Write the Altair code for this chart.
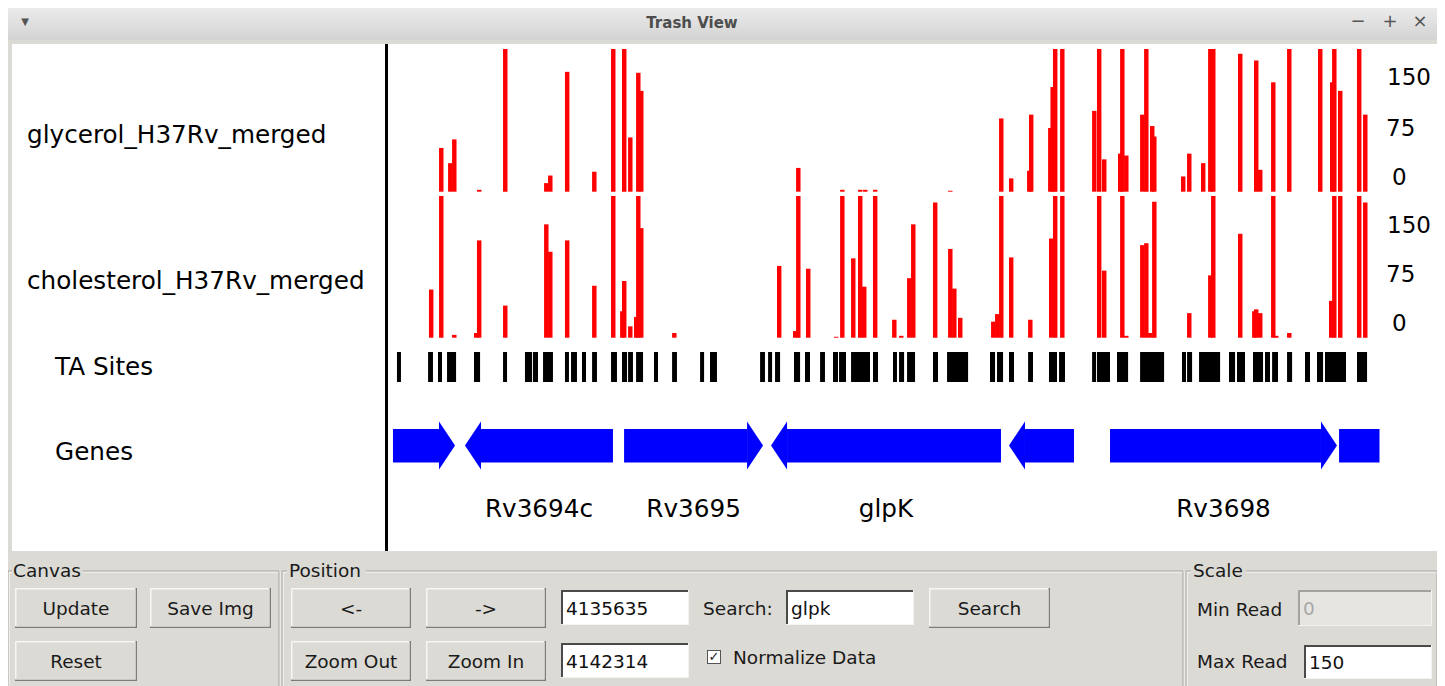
import altair as alt
import pandas as pd

# ---------------- data ----------------
VIEW_START = 4135635
VIEW_END = 4142314
MAX_READ = 150

track_names = ["glycerol_H37Rv_merged", "cholesterol_H37Rv_merged", "TA Sites", "Genes"]
read_ticks = ["150", "75", "0"]

glycerol_pos = [4135966, 4136027, 4136054, 4136222, 4136398, 4136675, 4136702, 4136816, 4136999, 4137127,
                4137201, 4137242, 4137296, 4137316, 4138376, 4138673, 4138794, 4138828, 4138895, 4139402,
                4139746, 4139813, 4139935, 4139948, 4140077, 4140093, 4140110, 4140158, 4140374, 4140407,
                4140441, 4140549, 4140563, 4140590, 4140698, 4140725, 4140765, 4140779, 4140974, 4141015,
                4141109, 4141157, 4141177, 4141359, 4141467, 4141494, 4141582, 4141690, 4141899, 4141980,
                4141994, 4142034, 4142162, 4142203]
glycerol_reads = [46, 30, 55, 2, 150, 9, 17, 126, 21, 150,
                  150, 57, 125, 106, 25, 2, 2, 2, 2, 1,
                  77, 14, 22, 81, 67, 110, 150, 150, 85, 150,
                  34, 40, 150, 38, 81, 150, 69, 58, 16, 40,
                  30, 150, 150, 145, 138, 23, 115, 150, 150, 115,
                  150, 106, 150, 81]

cholesterol_pos = [4135898, 4135966, 4136054, 4136202, 4136222, 4136398, 4136675, 4136702, 4136816, 4136999,
                   4137127, 4137188, 4137201, 4137242, 4137282, 4137296, 4137316, 4137539, 4138247, 4138355,
                   4138376, 4138443, 4138632, 4138673, 4138747, 4138794, 4138821, 4138895, 4139024, 4139071,
                   4139125, 4139152, 4139300, 4139402, 4139429, 4139469, 4139692, 4139719, 4139746, 4139813,
                   4139942, 4140083, 4140110, 4140158, 4140407, 4140441, 4140563, 4140590, 4140698, 4140725,
                   4140752, 4140779, 4141015, 4141157, 4141177, 4141359, 4141454, 4141467, 4141494, 4141582,
                   4141602, 4141690, 4141973, 4141994, 4142034, 4142162, 4142203]
cholesterol_reads = [51, 150, 3, 5, 103, 34, 120, 91, 103, 55,
                     150, 28, 60, 12, 22, 150, 116, 5, 76, 7,
                     150, 73, 1, 150, 84, 150, 54, 150, 19, 2,
                     63, 120, 143, 94, 52, 21, 17, 25, 150, 85,
                     19, 105, 150, 150, 150, 71, 150, 2, 98, 100,
                     5, 144, 26, 66, 150, 110, 28, 30, 26, 150,
                     2, 5, 39, 150, 150, 150, 143]

ta_start = [4135682, 4135892, 4135959, 4136020, 4136202, 4136398, 4136546, 4136600, 4136668, 4136816,
            4136857, 4136931, 4136999, 4137127, 4137201, 4137242, 4137296, 4137417, 4137539, 4137728,
            4137795, 4138133, 4138187, 4138234, 4138362, 4138436, 4138538, 4138625, 4138666, 4138747,
            4138895, 4139030, 4139071, 4139125, 4139300, 4139395, 4139685, 4139732, 4139813, 4139942,
            4140083, 4140151, 4140374, 4140407, 4140542, 4140698, 4140981, 4141015, 4141096, 4141298,
            4141352, 4141460, 4141541, 4141589, 4141690, 4141811, 4141892, 4141946, 4142162]
ta_end = [4135709, 4135925, 4135986, 4136081, 4136243, 4136425, 4136594, 4136634, 4136735, 4136843,
          4136897, 4136958, 4137032, 4137167, 4137235, 4137275, 4137343, 4137444, 4137572, 4137755,
          4137842, 4138166, 4138214, 4138268, 4138403, 4138470, 4138571, 4138659, 4138713, 4138875,
          4138929, 4139057, 4139105, 4139179, 4139334, 4139537, 4139719, 4139773, 4139847, 4139975,
          4140137, 4140191, 4140401, 4140495, 4140617, 4140860, 4141008, 4141049, 4141238, 4141339,
          4141406, 4141528, 4141575, 4141629, 4141724, 4141845, 4141933, 4142088, 4142230]

gene_start = [4135655, 4136141, 4137215, 4138207, 4139813, 4140495, 4142041]
gene_end = [4136074, 4137140, 4138153, 4139759, 4140252, 4142027, 4142500]
gene_strand = ["+", "-", "+", "-", "-", "+", "+"]
gene_label = ["", "Rv3694c", "Rv3695", "glpK", "", "Rv3698", ""]

start_coord = "4135635"
end_coord = "4142314"
search_text = "glpk"
min_read_text = "0"
max_read_text = "150"

# ---------------- layout / style ----------------
W, H = 1429, 678
OX, OY = 8, 8          # page margin -> chart coordinates
BG = "#dcdad5"
FONT = "DejaVu Sans"
BAR_BP = 30            # drawn width of one TA-site bar
HEAD_BP = 108          # arrow head length (16 px)
CANVAS_FS = 24.7

def cx(v):
    return v - OX

def cy(v):
    return v - OY

X_RANGE = [cx(390), cx(1379.5)]
xscale = alt.Scale(domain=[VIEW_START, VIEW_END], range=X_RANGE, nice=False, zero=False)
xscale_clamp = alt.Scale(domain=[VIEW_START, VIEW_END], range=X_RANGE, nice=False, zero=False, clamp=True)

def raw(field, ch):
    if ch == "x":
        return alt.X(field, scale=None, axis=None)
    return alt.Y(field, scale=None, axis=None)

# ---------- chrome boxes ----------
fills_a = []
def box(lst, x1, y1, x2, y2, fill):
    lst.append(dict(x=cx(x1), x2=cx(x2), y=cy(y1), y2=cy(y2), fill=fill))

box(fills_a, 12, 44, 1437, 551, "#ffffff")
box(fills_a, 385, 44, 388, 551, "#000000")

frames = []
for (x1, x2) in [(8, 279), (282, 1183), (1186, 1437)]:
    frames.append(dict(x=cx(x1 + 1), x2=cx(x2 + 1), y=cy(572), y2=cy(720), stroke="#ffffff"))
    frames.append(dict(x=cx(x1), x2=cx(x2), y=cy(571), y2=cy(719), stroke="#a9a6a0"))

fills_b = []
for (x1, x2) in [(12, 83), (287, 366), (1191, 1246)]:
    box(fills_b, x1, 562, x2, 580, BG)

buttons = [("Update", 15, 588, 137, 628), ("Save Img", 150, 588, 271, 628), ("Reset", 15, 641, 137, 681),
           ("<-", 291, 588, 411, 628), ("->", 426, 588, 546, 628), ("Zoom Out", 291, 641, 411, 681),
           ("Zoom In", 426, 641, 546, 681), ("Search", 929, 588, 1050, 628)]
for (_, x1, y1, x2, y2) in buttons:
    box(fills_b, x1, y1, x2, y2, "#7f7c77")
    box(fills_b, x1, y1, x2 - 1.5, y2 - 1.5, "#f7f6f4")
    box(fills_b, x1 + 1.5, y1 + 1.5, x2 - 1.5, y2 - 1.5, "#dcdad5")

entries = [(start_coord, 561, 590, 689, 625, "#ffffff", "#4a4a4a", "#111111"),
           (end_coord, 561, 643, 689, 678, "#ffffff", "#4a4a4a", "#111111"),
           (search_text, 786, 590, 914, 625, "#ffffff", "#4a4a4a", "#111111"),
           (min_read_text, 1298, 590, 1432, 626, "#e7e5e1", "#a4a29d", "#a8a8a8"),
           (max_read_text, 1304, 645, 1432, 679, "#ffffff", "#4a4a4a", "#111111")]
for (_, x1, y1, x2, y2, face, dark, _c) in entries:
    box(fills_b, x1, y1, x2, y2, "#f4f3f1")
    box(fills_b, x1, y1, x2 - 1, y2 - 1, dark)
    box(fills_b, x1 + 2, y1 + 2, x2 - 1, y2 - 1, face)

# checkbox
box(fills_b, 707, 650, 721, 664, "#555555")
box(fills_b, 708, 651, 720, 663, "#ffffff")

# ---------- chrome texts ----------
t_left = []
t_center = []
def txt(lst, s, x, y, size, color="#1a1a1a"):
    lst.append(dict(x=cx(x), y=cy(y), text=s, size=size, color=color))

txt(t_left, track_names[0], 27, 136, CANVAS_FS, "#000000")
txt(t_left, track_names[1], 27, 282, CANVAS_FS, "#000000")
txt(t_left, track_names[2], 55, 368, CANVAS_FS, "#000000")
txt(t_left, track_names[3], 55, 453, CANVAS_FS, "#000000")
for ys in [(78, 129, 178), (226, 275, 324)]:
    for lab, y, x in zip(read_ticks, ys, (1387, 1386, 1392)):
        txt(t_left, lab, x, y, 23, "#000000")

txt(t_left, "Canvas", 13, 571, 18.5)
txt(t_left, "Position", 289, 571, 18.5)
txt(t_left, "Scale", 1193, 571, 18.5)
txt(t_left, "Search:", 703, 609, 18.5)
txt(t_left, "Normalize Data", 733, 658, 18.5)
txt(t_left, "Min Read", 1197, 610, 18.5)
txt(t_left, "Max Read", 1197, 662, 18.5)
for (s, x1, y1, x2, y2, face, dark, col) in entries:
    txt(t_left, s, x1 + 5, (y1 + y2) / 2 + 1, 18.5, col)

for (s, x1, y1, x2, y2) in buttons:
    txt(t_center, s, (x1 + x2) / 2, (y1 + y2) / 2 + 1, 18.5)
txt(t_center, "✓", 714, 657, 13, "#222222")
txt(t_center, "▼", 25, 22, 10, "#555555")
txt(t_center, "−", 1358, 22, 18, "#555555")
txt(t_center, "+", 1390, 22, 18, "#555555")
txt(t_center, "×", 1420, 22, 18, "#555555")

t_title = [dict(x=cx(692), y=cy(23), text="Trash View", size=15, color="#4d4d4d")]

# ---------------- layers ----------------
one = alt.Data(values=[{"a": 1}])

titlebar = alt.Chart(one).mark_rect(
    fill=alt.LinearGradient(gradient="linear",
                            stops=[alt.GradientStop(offset=0, color="#ebebeb"),
                                   alt.GradientStop(offset=1, color="#d3d3d3")],
                            x1=0, x2=0, y1=0, y2=1)
).encode(x=alt.value(0), x2=alt.value(W), y=alt.value(0), y2=alt.value(cy(40)))

def box_layer(rows):
    return alt.Chart(pd.DataFrame(rows)).mark_rect().encode(
        x=raw("x:Q", "x"), x2="x2:Q", y=raw("y:Q", "y"), y2="y2:Q",
        fill=alt.Fill("fill:N", scale=None, legend=None),
    )

layer_fills_a = box_layer(fills_a)
layer_frames = alt.Chart(pd.DataFrame(frames)).mark_rect(filled=False, strokeWidth=1).encode(
    x=raw("x:Q", "x"), x2="x2:Q", y=raw("y:Q", "y"), y2="y2:Q",
    stroke=alt.Stroke("stroke:N", scale=None, legend=None),
)
layer_fills_b = box_layer(fills_b)

def text_layer(rows, align, weight="normal"):
    return alt.Chart(pd.DataFrame(rows)).mark_text(
        align=align, baseline="middle", font=FONT, fontWeight=weight
    ).encode(
        x=raw("x:Q", "x"), y=raw("y:Q", "y"), text="text:N",
        size=alt.Size("size:Q", scale=None, legend=None),
        color=alt.Color("color:N", scale=None, legend=None),
    )

def read_track(pos, reads, y_base, y_top):
    df = pd.DataFrame({"pos": pos, "reads": reads})
    return alt.Chart(df).transform_calculate(pos_end=f"datum.pos + {BAR_BP}").mark_rect(
        color="#ff0000"
    ).encode(
        x=alt.X("pos:Q", scale=xscale, axis=None),
        x2="pos_end:Q",
        y=alt.Y("reads:Q", scale=alt.Scale(domain=[0, MAX_READ], range=[y_base, y_top],
                                           clamp=True, nice=False, zero=False), axis=None),
        y2=alt.datum(0),
    )

track1 = read_track(glycerol_pos, glycerol_reads, cy(191.7), cy(49))
track2 = read_track(cholesterol_pos, cholesterol_reads, cy(337.7), cy(196))

ta = alt.Chart(pd.DataFrame({"start": ta_start, "end": ta_end})).mark_rect(color="#000000").encode(
    x=alt.X("start:Q", scale=xscale, axis=None),
    x2="end:Q",
    y=alt.value(cy(352)), y2=alt.value(cy(382)),
)

genes_df = pd.DataFrame({"start": gene_start, "end": gene_end, "strand": gene_strand, "label": gene_label})

gene_body = alt.Chart(genes_df).transform_calculate(
    bs=f"datum.strand == '+' ? datum.start : datum.start + {HEAD_BP}",
    be=f"datum.strand == '+' ? datum.end - {HEAD_BP} : datum.end",
).mark_rect(color="#0000ff").encode(
    x=alt.X("bs:Q", scale=xscale_clamp, axis=None),
    x2="be:Q",
    y=alt.value(cy(429)), y2=alt.value(cy(462.5)),
)

def head_layer(strand, field, path):
    return alt.Chart(genes_df).transform_filter(
        f"datum.strand == '{strand}' && datum.end <= {VIEW_END} && datum.start >= {VIEW_START}"
    ).mark_point(shape=path, size=2304, filled=True, opacity=1, color="#0000ff", strokeWidth=0).encode(
        x=alt.X(f"{field}:Q", scale=xscale, axis=None),
        y=alt.value(cy(445.5)),
    )

head_plus = head_layer("+", "end", "M-0.667,-1L0,0L-0.667,1Z")
head_minus = head_layer("-", "start", "M0.667,-1L0,0L0.667,1Z")

gene_text = alt.Chart(genes_df).transform_filter("datum.label != ''").transform_calculate(
    mid="(datum.start + datum.end) / 2"
).mark_text(align="center", baseline="middle", font=FONT, fontSize=CANVAS_FS, color="#000000").encode(
    x=alt.X("mid:Q", scale=xscale, axis=None),
    y=alt.value(cy(510)),
    text="label:N",
)

chart = alt.layer(
    titlebar, layer_fills_a, track1, track2, ta, gene_body, head_plus, head_minus, gene_text,
    layer_frames, layer_fills_b,
    text_layer(t_left, "left"), text_layer(t_center, "center"), text_layer(t_title, "center", "bold"),
).resolve_scale(
    x="independent", y="independent"
).properties(
    width=W, height=H, autosize=alt.AutoSizeParams(type="none"), padding=0, background=BG
).configure_view(stroke=None)

chart.save("out.html", embed_options={"renderer": "svg", "actions": False})
